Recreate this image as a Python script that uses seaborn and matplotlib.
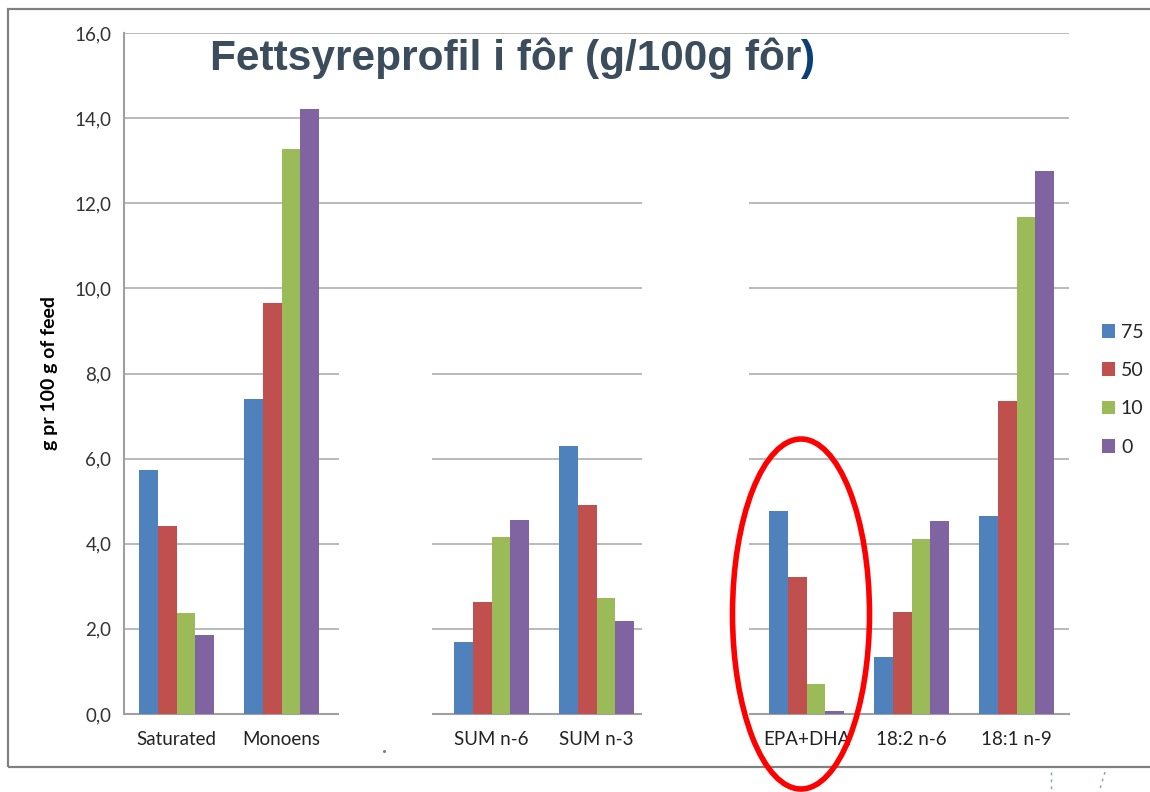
import numpy as np
import pandas as pd
import matplotlib
matplotlib.use("Agg")
import matplotlib.pyplot as plt
from matplotlib.patches import Rectangle, Ellipse
from matplotlib.lines import Line2D
import seaborn as sns

# data
categories = ["Saturated", "Monoens", "gap1", "SUM n-6", "SUM n-3", "gap2",
              "EPA+DHA", "18:2 n-6", "18:1 n-9"]
groups = ["75", "50", "10", "0"]
val_75 = [5.73, 7.39, None, 1.68, 6.30, None, 4.77, 1.33, 4.65]
val_50 = [4.42, 9.66, None, 2.63, 4.91, None, 3.21, 2.39, 7.35]
val_10 = [2.37, 13.28, None, 4.17, 2.73, None, 0.70, 4.10, 11.68]
val_0 = [1.86, 14.21, None, 4.56, 2.18, None, 0.08, 4.53, 12.76]
tick_labels = ["Saturated", "Monoens", "", "SUM n-6", "SUM n-3", "",
               "EPA+DHA", "18:2 n-6", "18:1 n-9"]
colors = ["#4F81BD", "#C0504D", "#9BBB59", "#8064A2"]

rows = []
for g, vals in zip(groups, [val_75, val_50, val_10, val_0]):
    for c, v in zip(categories, vals):
        if v is not None:
            rows.append({"cat": c, "grp": g, "val": v})
df = pd.DataFrame(rows)

sns.set_style("white")
plt.rcParams['font.family'] = ['Lato', 'DejaVu Sans']

W, H = 1150, 792
fig = plt.figure(figsize=(W / 100, H / 100), dpi=100)
ax = fig.add_axes([124 / W, 1 - 714 / H, (1069 - 124) / W, (714 - 33) / H])

sns.barplot(data=df, x="cat", y="val", hue="grp", order=categories,
            hue_order=groups, palette=colors, width=0.72, linewidth=0,
            saturation=1, ax=ax, zorder=3)

ax.set_xlim(-0.5, 8.5)
ax.set_ylim(0, 16)
ax.set_yticks(np.arange(0, 16.1, 2))
ax.set_yticklabels([f"{t:.1f}".replace(".", ",") for t in np.arange(0, 16.1, 2)],
                   fontsize=13.5, color="#333333")
ax.set_xticks(range(len(categories)))
ax.set_xticklabels(tick_labels, fontsize=13.5, color="#222222")
ax.set_xticks([-0.5, 0.5, 1.5, 2.5, 3.5, 5.5, 7.5, 8.5], minor=True)
ax.tick_params(axis="x", which="major", length=0, pad=12)
ax.tick_params(axis="x", which="minor", length=5, color="#A0A0A0", width=1.2,
               direction="out")
ax.tick_params(axis="y", length=5, color="#A0A0A0", width=1.2, direction="out", pad=4)
ax.set_xlabel("")
ax.set_ylabel("")
ax.yaxis.grid(True, color="#B4B4B4", linewidth=1.3, zorder=0)
ax.set_axisbelow(True)
for s in ["top", "right"]:
    ax.spines[s].set_visible(False)
for s in ["left", "bottom"]:
    ax.spines[s].set_color("#A0A0A0")
    ax.spines[s].set_linewidth(1.5)

# white boxes hiding the empty category slots (as in the slide)
ax.add_patch(Rectangle((1.55, -0.3), 0.88, 9.3, facecolor="white",
                       edgecolor="none", zorder=5, clip_on=False))
ax.add_patch(Rectangle((4.43, -0.3), 1.02, 13.3, facecolor="white",
                       edgecolor="none", zorder=5, clip_on=False))

# legend
handles, _ = ax.get_legend_handles_labels()
ax.legend(handles, groups, loc="upper left", bbox_to_anchor=(1084 / W, 1 - 306 / H),
          bbox_transform=fig.transFigure, frameon=False, fontsize=14,
          handlelength=0.7, handleheight=0.7, handletextpad=0.3,
          labelspacing=1.1)

# y label
fig.text(50 / W, 1 - 373 / H, "g pr 100 g of feed", rotation=90, ha="center",
         va="center", fontsize=14, fontweight="bold", color="black")

# title, closing bracket in dark blue
t1 = fig.text(210 / W, 1 - 70 / H, "Fettsyreprofil i fôr (g/100g fôr",
              fontsize=30.5, fontweight="bold", family="Liberation Sans",
              color="#3B4D5C", ha="left", va="baseline")
fig.canvas.draw()
bb = t1.get_window_extent()
fig.text(bb.x1 / W, 1 - 70 / H, ")", fontsize=30.5, fontweight="bold",
         family="Liberation Sans", color="#0A3F78", ha="left", va="baseline")

# slide frame
fig.add_artist(Rectangle((8 / W, 1 - 767 / H), 1.2, (767 - 9) / H,
                         transform=fig.transFigure, fill=False,
                         edgecolor="#808080", linewidth=1.6, clip_on=False))

# red ellipse around EPA+DHA
fig.add_artist(Ellipse((801 / W, 1 - 614 / H), 137 / W, 350 / H,
                       transform=fig.transFigure, fill=False,
                       edgecolor="#FF0000", linewidth=4, zorder=10))

# small marks from the slide
fig.add_artist(Line2D([1051 / W, 1051 / W], [1 - 772 / H, 0], transform=fig.transFigure,
                      color="#8A9BB0", linewidth=1, linestyle=(0, (2, 3))))
fig.add_artist(Line2D([1105 / W, 1099 / W], [1 - 772 / H, 0], transform=fig.transFigure,
                      color="#8A9BB0", linewidth=1, linestyle=(0, (2, 3))))
fig.add_artist(Line2D([384 / W], [1 - 751 / H], transform=fig.transFigure,
                      marker="s", markersize=1, color="#777777", linestyle="none"))

fig.savefig("out.png", dpi=100)
